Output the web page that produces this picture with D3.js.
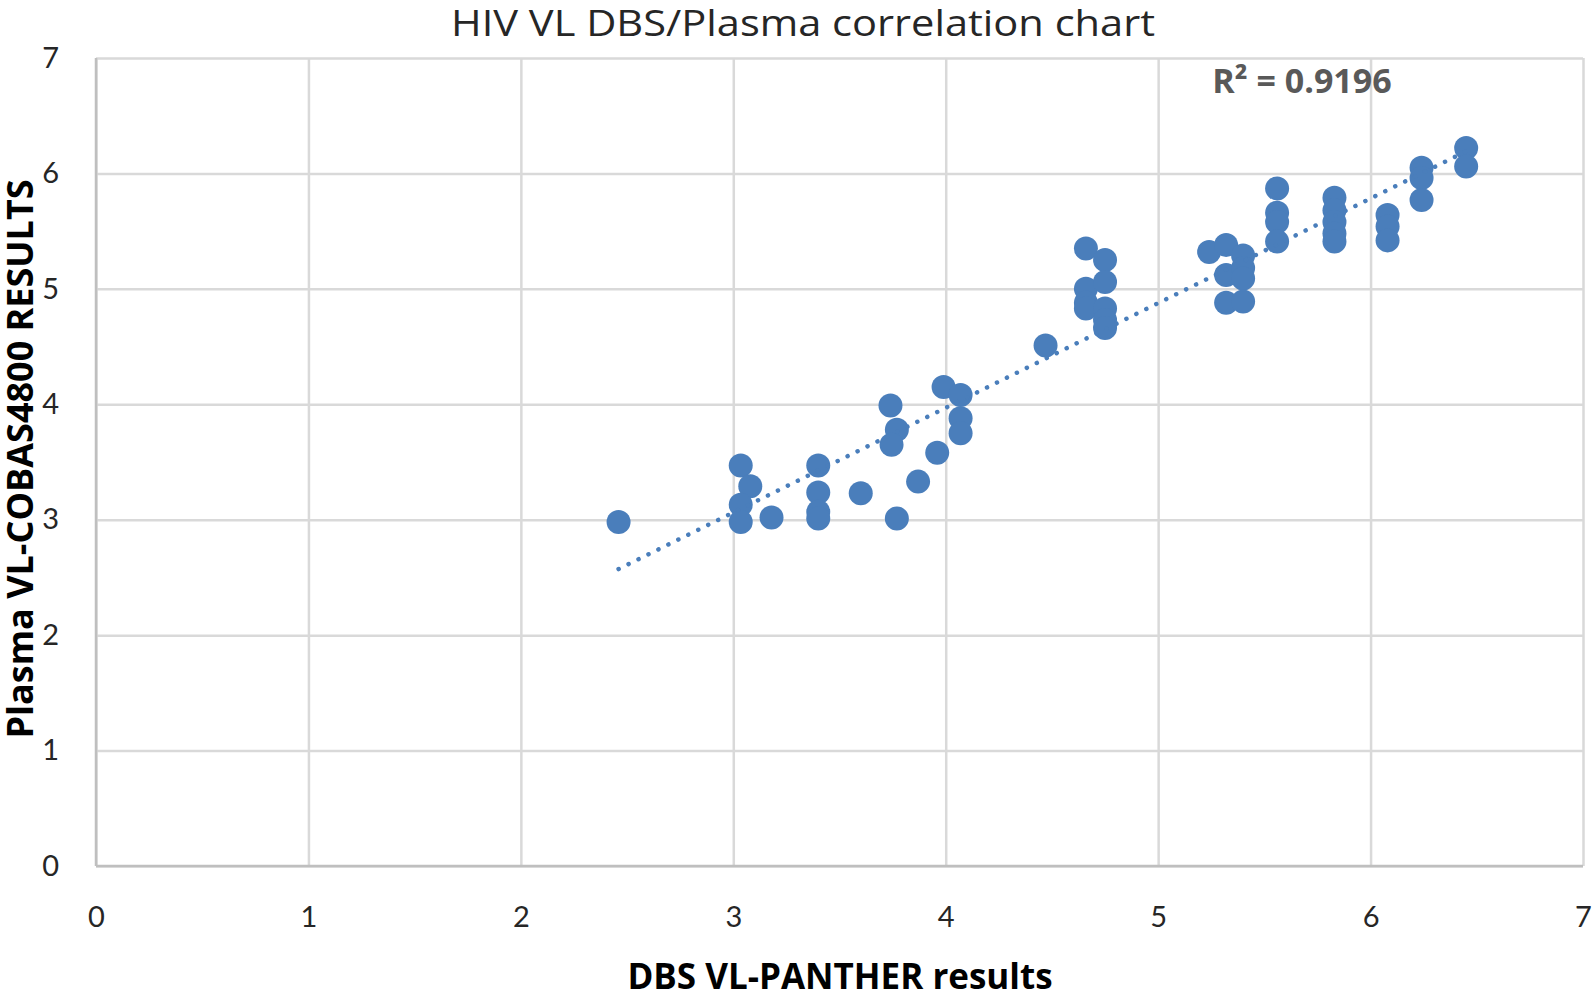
<!DOCTYPE html>
<html>
<head>
<meta charset="utf-8">
<script src="https://cdn.jsdelivr.net/npm/d3@7"></script>
<style>
  html, body { margin: 0; padding: 0; background: #fff; }
  svg { display: block; }
</style>
</head>
<body>
<svg id="chart" width="1594" height="992"></svg>
<script>
// ---- Data ----
const chartTitle = "HIV VL DBS/Plasma correlation chart";
const xLabel = "DBS VL-PANTHER results";
const yLabel = "Plasma VL-COBAS4800 RESULTS";
const r2Label = "R² = 0.9196";
const xTicks = [0, 1, 2, 3, 4, 5, 6, 7];
const yTicks = [0, 1, 2, 3, 4, 5, 6, 7];

const dbsValues = [
  2.46,
  3.035, 3.08, 3.035, 3.035, 3.18,
  3.40, 3.40, 3.40, 3.40,
  3.60,
  3.74, 3.77, 3.745, 3.77,
  3.87, 3.96,
  3.99, 4.07, 4.07, 4.07,
  4.47,
  4.66, 4.66, 4.66, 4.66,
  4.75, 4.75, 4.75, 4.75, 4.75,
  5.24, 5.32, 5.32, 5.32,
  5.40, 5.40, 5.40, 5.40,
  5.56, 5.56, 5.56, 5.56,
  5.83, 5.83, 5.83, 5.83, 5.83,
  6.08, 6.08, 6.08,
  6.24, 6.24, 6.24,
  6.45, 6.45
];
const plasmaValues = [
  2.98,
  3.47, 3.29, 3.13, 2.98, 3.02,
  3.47, 3.235, 3.07, 3.01,
  3.23,
  3.99, 3.78, 3.65, 3.01,
  3.33, 3.58,
  4.15, 4.08, 3.88, 3.75,
  4.51,
  5.35, 5.00, 4.88, 4.83,
  5.25, 5.06, 4.83, 4.73, 4.66,
  5.32, 5.38, 5.12, 4.88,
  5.29, 5.18, 5.09, 4.89,
  5.87, 5.66, 5.58, 5.41,
  5.79, 5.68, 5.58, 5.48, 5.41,
  5.64, 5.54, 5.42,
  6.05, 5.96, 5.77,
  6.22, 6.06
];

// ---- Layout ----
const margin = { left: 96, top: 58, right: 1594 - 1583, bottom: 992 - 866 };
const W = 1594, H = 992;
const svg = d3.select("#chart");

const x = d3.scaleLinear().domain([0, 7]).range([margin.left, W - margin.right]);
const y = d3.scaleLinear().domain([0, 7]).range([H - margin.bottom, margin.top]);

const gridColor = "#d9d9d9";
const axisColor = "#bfbfbf";
const pointColor = "#4a7ebb";
const tickFont = "Lato, 'Open Sans', sans-serif";
const labelFont = "'Open Sans', Lato, sans-serif";

// Gridlines
svg.append("g")
  .attr("transform", `translate(0,${y(0)})`)
  .call(d3.axisBottom(x).tickValues(xTicks).tickSize(-(y(0) - y(7))).tickFormat(""))
  .call(g => g.select(".domain").remove())
  .call(g => g.selectAll("line").attr("stroke", gridColor).attr("stroke-width", 2.5));
svg.append("g")
  .attr("transform", `translate(${x(0)},0)`)
  .call(d3.axisLeft(y).tickValues(yTicks).tickSize(-(x(7) - x(0))).tickFormat(""))
  .call(g => g.select(".domain").remove())
  .call(g => g.selectAll("line").attr("stroke", gridColor).attr("stroke-width", 2.5));

// Axis lines
svg.append("line").attr("x1", x(0)).attr("x2", x(7)).attr("y1", y(0)).attr("y2", y(0))
  .attr("stroke", axisColor).attr("stroke-width", 2.5);
svg.append("line").attr("x1", x(0)).attr("x2", x(0)).attr("y1", y(0)).attr("y2", y(7))
  .attr("stroke", axisColor).attr("stroke-width", 2.5);

// Tick labels
const xAxis = svg.append("g")
  .attr("transform", `translate(0,${y(0)})`)
  .call(d3.axisBottom(x).tickValues(xTicks).tickSize(0).tickPadding(40).tickFormat(d3.format("d")));
xAxis.select(".domain").remove();
xAxis.selectAll("text").attr("font-family", tickFont).attr("font-size", 29).attr("fill", "#262626");

const yAxis = svg.append("g")
  .attr("transform", `translate(${x(0)},0)`)
  .call(d3.axisLeft(y).tickValues(yTicks).tickSize(0).tickPadding(37).tickFormat(d3.format("d")));
yAxis.select(".domain").remove();
yAxis.selectAll("text").attr("font-family", tickFont).attr("font-size", 29).attr("fill", "#262626");

// Data
const pts = dbsValues.map((d, i) => ({ x: d, y: plasmaValues[i] }));

// Points
svg.append("g").selectAll("circle").data(pts).join("circle")
  .attr("cx", d => x(d.x)).attr("cy", d => y(d.y)).attr("r", 12)
  .attr("fill", pointColor);

// Linear trendline (least squares)
const mx = d3.mean(pts, d => d.x), my = d3.mean(pts, d => d.y);
const slope = d3.sum(pts, d => (d.x - mx) * (d.y - my)) / d3.sum(pts, d => (d.x - mx) ** 2);
const icpt = my - slope * mx;
const [xmin, xmax] = d3.extent(pts, d => d.x);
svg.append("line")
  .attr("x1", x(xmin)).attr("y1", y(icpt + slope * xmin))
  .attr("x2", x(xmax)).attr("y2", y(icpt + slope * xmax))
  .attr("stroke", pointColor).attr("stroke-width", 4.5)
  .attr("stroke-linecap", "round").attr("stroke-dasharray", "0.1 11");

// R² label
svg.append("text").attr("x", 1302).attr("y", 93).attr("text-anchor", "middle")
  .attr("font-family", labelFont).attr("font-weight", "bold").attr("font-size", 34)
  .attr("fill", "#595959").text(r2Label);

// Title
svg.append("text").attr("x", 803).attr("y", 36).attr("text-anchor", "middle")
  .attr("font-family", labelFont).attr("font-size", 37)
  .attr("textLength", 704).attr("lengthAdjust", "spacingAndGlyphs")
  .attr("fill", "#262626").text(chartTitle);

// Axis titles
svg.append("text").attr("x", 840).attr("y", 989).attr("text-anchor", "middle")
  .attr("font-family", labelFont).attr("font-weight", "bold").attr("font-size", 35)
  .attr("fill", "#000").text(xLabel);
svg.append("text").attr("transform", `translate(33,${459}) rotate(-90)`).attr("text-anchor", "middle")
  .attr("font-family", labelFont).attr("font-weight", "bold").attr("font-size", 36)
  .attr("fill", "#000").text(yLabel);
</script>
</body>
</html>
